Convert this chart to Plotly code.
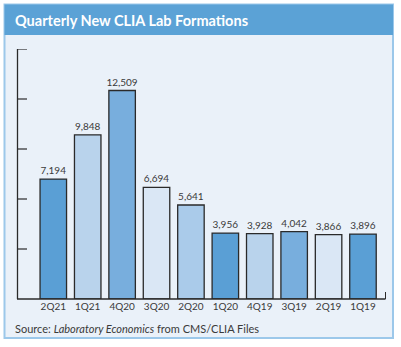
import plotly.graph_objects as go

categories = ["2Q21", "1Q21", "4Q20", "3Q20", "2Q20", "1Q20", "4Q19", "3Q19", "2Q19", "1Q19"]
values = [7194, 9848, 12509, 6694, 5641, 3956, 3928, 4042, 3866, 3896]
bar_colors = ["#5A9FD5", "#B9D3EC", "#78AEDD", "#DAE7F5", "#AACBEA",
              "#5A9FD5", "#B9D3EC", "#78AEDD", "#DAE7F5", "#5A9FD5"]
y_ticks = [0, 3000, 6000, 9000, 12000, 15000]

W, H = 401, 347
def px(x): return x / W
def py(y): return 1 - y / H

FONT = "Century Gothic, Lato, Open Sans, sans-serif"

idx = list(range(len(categories)))
fig = go.Figure()
fig.add_trace(go.Bar(
    x=idx, y=values,
    marker=dict(color=bar_colors, line=dict(color="#2a2a2a", width=1.3)),
    text=[f"{v:,}" for v in values], textposition="outside",
    textfont=dict(size=10, color="#3a3a3a", family=FONT),
    cliponaxis=False, constraintext="none", width=0.77,
))

fig.update_layout(
    width=W, height=H, margin=dict(l=0, r=0, t=0, b=0),
    paper_bgcolor="white", plot_bgcolor="rgba(0,0,0,0)",
    showlegend=False,
    xaxis=dict(domain=[px(17), px(385)], range=[-1.055, 9.64],
               tickvals=idx, ticktext=categories, ticks="", showgrid=False,
               zeroline=False, showline=False,
               tickfont=dict(size=10, color="#3a3a3a", family=FONT)),
    yaxis=dict(domain=[py(299), py(49)], range=[0, 15000],
               tickvals=y_ticks, showticklabels=False, showgrid=False,
               zeroline=False, showline=False),
    shapes=[
        # outer panel border
        dict(type="rect", xref="paper", yref="paper", x0=px(4.5), x1=px(393), y0=py(338), y1=py(4.5),
             line=dict(color="#9CC8EA", width=2), fillcolor="#EAF1F9", layer="below"),
        # title band
        dict(type="rect", xref="paper", yref="paper", x0=px(4.5), x1=px(393), y0=py(35), y1=py(4.5),
             line=dict(width=0), fillcolor="#5BA2D6", layer="below"),
        # y axis line
        dict(type="line", xref="paper", yref="paper", x0=px(17.5), x1=px(17.5), y0=py(299), y1=py(49),
             line=dict(color="#2a2a2a", width=1.3)),
        # x axis line
        dict(type="line", xref="paper", yref="paper", x0=px(17), x1=px(385.5), y0=py(299), y1=py(299),
             line=dict(color="#2a2a2a", width=1.3)),
        # right end tick
        dict(type="line", xref="paper", yref="paper", x0=px(385.5), x1=px(385.5), y0=py(299), y1=py(292),
             line=dict(color="#2a2a2a", width=1)),
    ] + [
        dict(type="line", xref="paper", yref="y", x0=px(17.5), x1=px(27), y0=t, y1=t,
             line=dict(color="#2a2a2a", width=1.2))
        for t in y_ticks[1:]
    ],
    annotations=[
        dict(text="<b>Quarterly New CLIA Lab Formations</b>", xref="paper", yref="paper",
             x=px(13), y=py(20), xanchor="left", yanchor="middle", showarrow=False,
             font=dict(size=14.5, color="white", family=FONT)),
        dict(text="Source: <i>Laboratory Economics</i> from CMS/CLIA Files", xref="paper", yref="paper",
             x=px(13), y=py(328), xanchor="left", yanchor="middle", showarrow=False,
             font=dict(size=11, color="#3a3a3a", family=FONT)),
    ],
)

fig.write_html("out.html")
